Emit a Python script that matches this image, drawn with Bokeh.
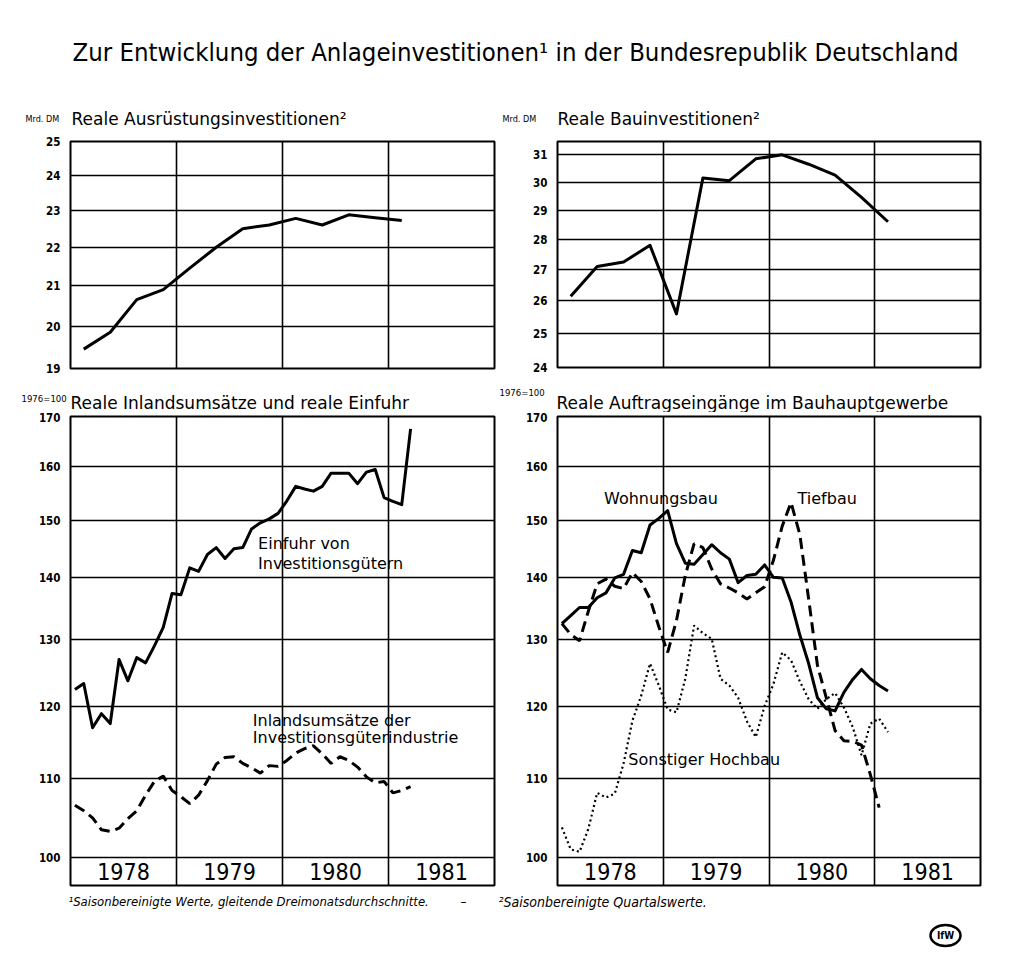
from bokeh.plotting import figure
from bokeh.models import Range1d, FixedTicker, PrintfTickFormatter, Label
from bokeh.layouts import column, row
from bokeh.embed import file_html
from bokeh.resources import INLINE
from bokeh.core.properties import value

# ---------------- data ----------------
years = ["1978", "1979", "1980", "1981"]
year_starts = [1978, 1979, 1980, 1981]

# quarterly values, Q1 1978 .. Q1 1981 (Mrd. DM)
ausruestung = [19.45, 19.85, 20.65, 20.9, 21.45, 22.0, 22.5, 22.6, 22.78, 22.6, 22.88, 22.8, 22.72]
bau = [26.15, 27.1, 27.25, 27.8, 25.6, 30.15, 30.05, 30.85, 31.0, 30.65, 30.25, 29.45, 28.6]

# monthly values from Jan 1978 (1976 = 100)
einfuhr = [122.4, 123.3, 116.9, 118.9, 117.5, 126.9, 123.7, 127.2, 126.4, 129.0, 131.9, 137.4,
           137.2, 141.7, 141.1, 144.0, 145.2, 143.3, 145.0, 145.2, 148.5, 149.6, 150.3, 151.3,
           153.6, 156.3, 155.8, 155.4, 156.3, 158.8, 158.8, 158.8, 156.8, 159.0, 159.5, 154.2,
           153.5, 152.9, 167.5]
inland = [106.5, 105.8, 104.9, 103.4, 103.2, 103.6, 104.8, 105.8, 107.8, 109.6, 110.3, 108.4,
          107.6, 106.7, 107.8, 109.7, 111.9, 112.8, 112.9, 112.0, 111.4, 110.7, 111.7, 111.6,
          112.4, 113.4, 114.0, 114.4, 113.3, 112.0, 112.9, 112.4, 111.5, 110.2, 109.4, 109.6,
          108.1, 108.4, 108.9]
wohnungsbau = [132.5, 133.8, 135.1, 135.1, 136.7, 137.5, 140.0, 140.6, 144.7, 144.3, 149.2, 150.4,
               151.8, 145.9, 142.5, 142.3, 144.0, 145.7, 144.3, 143.2, 139.2, 140.4, 140.6, 142.2,
               140.1, 140.0, 136.0, 130.7, 126.3, 121.2, 119.6, 119.3, 122.0, 123.9, 125.4, 124.0,
               123.0, 122.2]
tiefbau = [132.5, 130.8, 129.8, 134.5, 139.0, 139.8, 138.6, 138.2, 140.9, 139.4, 136.5, 132.0,
           128.0, 133.0, 140.4, 145.9, 145.2, 141.5, 139.0, 138.3, 137.5, 136.5, 137.5, 138.5,
           143.0, 149.0, 153.3, 147.5, 136.5, 126.0, 121.2, 116.5, 115.1, 115.0, 114.5, 110.5,
           106.2]
hochbau = [103.7, 101.0, 100.7, 103.5, 108.1, 107.5, 108.0, 112.0, 117.9, 121.5, 126.3, 123.0,
           119.5, 119.1, 124.0, 132.2, 131.0, 130.1, 124.0, 123.0, 121.2, 117.8, 115.6, 120.0,
           123.2, 128.0, 126.8, 123.6, 121.0, 119.6, 121.0, 121.9, 119.8, 117.0, 113.1, 117.5,
           118.2, 116.3]

ticks_ausr = [19, 20, 21, 22, 23, 24, 25]
ticks_bau = [24, 25, 26, 27, 28, 29, 30, 31]
ticks_index = [100, 110, 120, 130, 140, 150, 160, 170]

COND = "DejaVu Sans Condensed, DejaVu Sans, sans-serif"
SANS = "DejaVu Sans, sans-serif"
W = 1000


def qx(n):
    return [1978 + (i + 0.5) / 4 for i in range(n)]


def mx(n):
    return [1978 + (i + 0.5) / 12 for i in range(n)]


def strip(h):
    s = figure(frame_width=W, frame_height=h, min_border=0, x_range=Range1d(0, W),
               y_range=Range1d(h, 0), toolbar_location=None, output_backend="svg",
               x_axis_location=None, y_axis_location=None, outline_line_color=None,
               background_fill_color="white", border_fill_color="white")
    s.grid.visible = False
    return s


def txt(p, x, y, text, size, font=SANS, style="normal", align="left"):
    p.add_layout(Label(x=x, y=y, text=text, text_font=font, text_font_size=size,
                       text_font_style=style, text_align=align, text_baseline="middle",
                       text_color="black"))


def panel(y0, y1, ticks, fw, fh, bl, br, bt, bb):
    p = figure(frame_width=fw, frame_height=fh, min_border_left=bl, min_border_right=br,
               min_border_top=bt, min_border_bottom=bb,
               x_range=Range1d(1978, 1982), y_range=Range1d(y0, y1), y_axis_type="log",
               x_axis_location=None, toolbar_location=None, output_backend="svg",
               background_fill_color="white", border_fill_color="white")
    tk = FixedTicker(ticks=ticks)
    p.yaxis.ticker = tk
    p.ygrid.ticker = tk
    p.xgrid.ticker = FixedTicker(ticks=year_starts[1:])
    p.yaxis.formatter = PrintfTickFormatter(format="%d")
    p.yaxis.axis_line_color = None
    p.yaxis.major_tick_line_color = None
    p.yaxis.minor_tick_line_color = None
    p.yaxis.major_label_standoff = 4
    p.yaxis.major_label_text_font_size = "11.5px"
    p.yaxis.major_label_text_font_style = "bold"
    p.yaxis.major_label_text_color = "black"
    p.yaxis.major_label_text_font = COND
    p.grid.grid_line_color = "black"
    p.grid.grid_line_width = 1.6
    p.grid.grid_line_alpha = 1.0
    p.outline_line_color = "black"
    p.outline_line_width = 2
    p.outline_line_alpha = 1.0
    return p


def year_band(p, ymid):
    p.text(x=[y + 0.5 for y in year_starts], y=[ymid] * len(years), text=years,
           text_font=value(COND), text_font_size="23px", text_align="center",
           text_baseline="middle", text_color="black")


# ---------------- header with title and top subtitles ----------------
hdr = strip(132)
txt(hdr, 515, 51, "Zur Entwicklung der Anlageinvestitionen\u00b9 in der Bundesrepublik Deutschland",
    "25.5px", font=COND, align="center")
txt(hdr, 25, 118, "Mrd. DM", "9px", font=COND)
txt(hdr, 71, 118, "Reale Ausr\u00fcstungsinvestitionen\u00b2", "17px")
txt(hdr, 502, 118, "Mrd. DM", "9px", font=COND)
txt(hdr, 557, 118, "Reale Bauinvestitionen\u00b2", "17px")

# ---------------- top left ----------------
tl = panel(19, 25, ticks_ausr, 424, 227, 70, 4, 8, 9)
tl.line(qx(len(ausruestung)), ausruestung, line_width=3, color="black", line_join="round")

# ---------------- top right ----------------
tr = panel(24, 31.5, ticks_bau, 423, 226, 59, 18, 9, 9)
tr.line(qx(len(bau)), bau, line_width=3, color="black", line_join="round")

# ---------------- middle strip with bottom subtitles ----------------
mid = strip(36)
txt(mid, 21, 22, "1976=100", "9.5px", font=COND)
txt(mid, 70, 26, "Reale Inlandsums\u00e4tze und reale Einfuhr", "17px")
txt(mid, 499, 16, "1976=100", "9.5px", font=COND)
txt(mid, 556, 26, "Reale Auftragseing\u00e4nge im Bauhauptgewerbe", "17px")

# ---------------- bottom left ----------------
bl = panel(96.7, 170, ticks_index, 424, 469, 70, 4, 4, 5)
bl.line(mx(len(einfuhr)), einfuhr, line_width=3, color="black", line_join="round")
bl.line(mx(len(inland)), inland, line_width=3, color="black", line_dash="11 6")
year_band(bl, 98.3)
txt(bl, 1979.77, 145.9, "Einfuhr von", "16px")
txt(bl, 1979.77, 142.4, "Investitionsg\u00fctern", "16px")
txt(bl, 1979.72, 117.9, "Inlandsums\u00e4tze der", "16px")
txt(bl, 1979.72, 115.5, "Investitionsg\u00fcterindustrie", "16px")

# ---------------- bottom right ----------------
br = panel(96.7, 170, ticks_index, 423, 469, 59, 18, 4, 5)
br.line(mx(len(wohnungsbau)), wohnungsbau, line_width=3, color="black", line_join="round")
br.line(mx(len(tiefbau)), tiefbau, line_width=3, color="black", line_dash="11 6")
br.line(mx(len(hochbau)), hochbau, line_width=2.2, color="black", line_dash="2 3")
year_band(br, 98.3)
txt(br, 1978.44, 154.0, "Wohnungsbau", "16px")
txt(br, 1980.27, 154.0, "Tiefbau", "16px")
txt(br, 1978.67, 112.5, "Sonstiger Hochbau", "16px")

# ---------------- footer ----------------
ftr = strip(58)
txt(ftr, 68, 11, "\u00b9Saisonbereinigte  Werte,  gleitende  Dreimonatsdurchschnitte.", "13px",
    font=COND, style="italic")
txt(ftr, 460, 11, "\u2013", "13px", font=COND, style="italic")
txt(ftr, 498, 11, "\u00b2Saisonbereinigte  Quartalswerte.", "14px", font=COND, style="italic")
ftr.ellipse(x=[945], y=[45], width=30, height=21, fill_color="white",
            line_color="black", line_width=2.5)
txt(ftr, 945, 45, "IfW", "10px", font=COND, style="bold", align="center")

layout = column(hdr, row(tl, tr), mid, row(bl, br), ftr)
open("out.html", "w").write(file_html(layout, INLINE))
